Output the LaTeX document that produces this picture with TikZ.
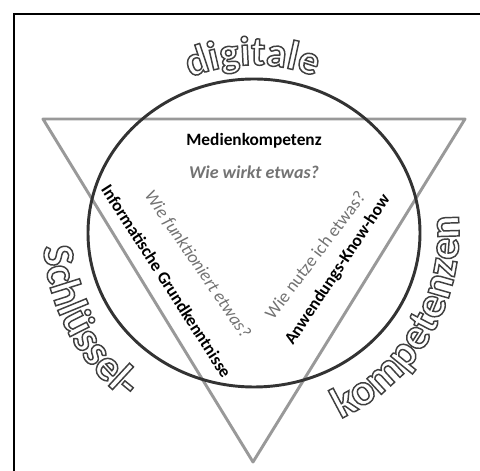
\documentclass[tikz,border=0pt]{standalone}
\usepackage{fontspec}
\setmainfont{Carlito}
\usetikzlibrary{decorations.text}

\newcommand\hohl{\special{pdf:literal direct 0.25 0.25 0.25 RG 1.1 w 2 Tr}}
\newcommand\bogenklein{\fontsize{31}{32}\selectfont\bfseries}
\newcommand\bogengross{\fontsize{33}{34}\selectfont\bfseries}

\begin{document}
\begin{tikzpicture}[x=0.75pt,y=0.75pt,
  dreieck/.style={draw=black!40, line width=2.2pt, line join=round},
  kreis/.style={draw=black!80, line width=2.2pt},
  titel/.style={font=\fontsize{13}{15}\selectfont\bfseries, inner sep=0pt},
  frage/.style={font=\fontsize{13.5}{16}\selectfont, text=black!55, inner sep=0pt}]
\useasboundingbox (0,0) rectangle (480,471);
\clip (0,0) rectangle (480,471);
\draw [black, line width=1.6pt] (14,-5) -- (14,457) -- (490,457);
\coordinate (c) at (254,238);
\coordinate (t1) at (43,352);
\coordinate (t2) at (465,352);
\coordinate (t3) at (253,9);
\draw [dreieck] (t1) -- (t2) -- (t3) -- cycle;
\draw [kreis] (c) ellipse [x radius=166, y radius=154];
\node [titel] (mk) at (254,330) {Medienkompetenz};
\node [frage, font=\fontsize{13.5}{16}\selectfont\bfseries\itshape] (mkq) at (254,298.5) {Wie wirkt etwas?};
\node [titel, rotate=-57.3] (ig) at (166.5,190) {Informatische Grundkenntnisse};
\node [frage, font=\fontsize{13.5}{16}\selectfont\itshape, rotate=-55.7] (igq) at (197.5,206.5) {Wie funktioniert etwas?};
\node [frage, rotate=53] (akq) at (315,216) {Wie nutze ich etwas?};
\node [titel, rotate=56.4] (ak) at (338,201) {Anwendungs-Know-how};
% gewoelbte Schrift
\begin{scope}
\path [decorate, decoration={text along path, text align=center, text={|\bogenklein\color{white}\hohl|digitale}}]
  ([shift={(120:168)}]c) arc [start angle=120, end angle=61, radius=168];
\path [decorate, decoration={text along path, text align=center, text={|\bogengross\color{white}\hohl|Schlüssel-}}]
  ([shift={(172:211)}]c) arc [start angle=172, end angle=244, radius=211];
\path [decorate, decoration={text along path, text align=center, text={|\bogengross\color{white}\hohl|kompetenzen}}]
  ([shift={(-70:205)}]c) arc [start angle=-70, end angle=10, radius=205];
\end{scope}
\end{tikzpicture}
\end{document}
